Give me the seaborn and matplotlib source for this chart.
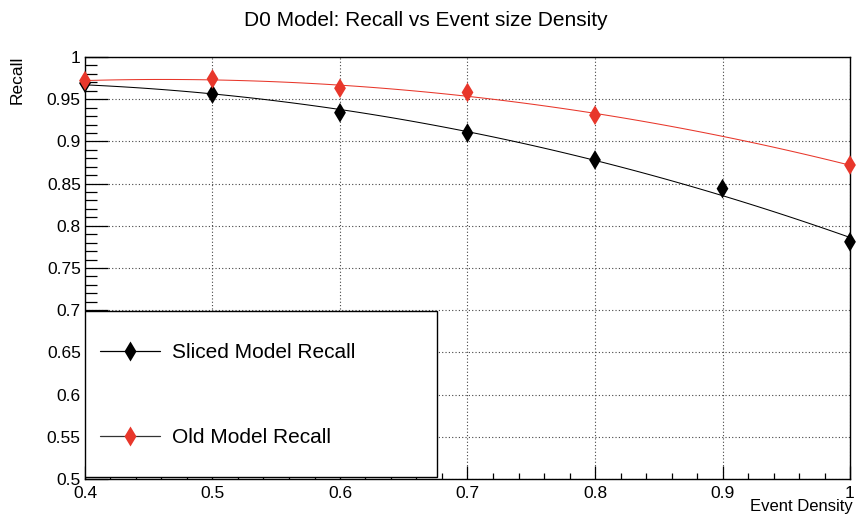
import numpy as np
import pandas as pd
import matplotlib
matplotlib.use("Agg")
import matplotlib.pyplot as plt
from matplotlib.lines import Line2D
from matplotlib.patches import Rectangle
from matplotlib.ticker import MultipleLocator, FormatStrFormatter
import seaborn as sns

# Measured recall for each event density
sliced_density = [0.4, 0.5, 0.6, 0.7, 0.8, 0.9, 1.0]
sliced_recall = [0.969, 0.956, 0.934, 0.910, 0.878, 0.844, 0.781]

old_density = [0.4, 0.5, 0.6, 0.7, 0.8, 1.0]
old_recall = [0.972, 0.974, 0.963, 0.958, 0.931, 0.872]

x_ticks = [0.4, 0.5, 0.6, 0.7, 0.8, 0.9, 1.0]
y_ticks = [0.5, 0.55, 0.6, 0.65, 0.7, 0.75, 0.8, 0.85, 0.9, 0.95, 1.0]

title = "D0 Model: Recall vs Event size Density"
labels = ["Sliced Model Recall", "Old Model Recall"]

RED = "#e8372b"
BLACK = "#000000"

sns.set_style("white")
plt.rcParams["font.family"] = ["Liberation Sans", "DejaVu Sans"]
plt.rcParams["text.color"] = BLACK
plt.rcParams["axes.labelcolor"] = BLACK
plt.rcParams["xtick.color"] = BLACK
plt.rcParams["ytick.color"] = BLACK

fig = plt.figure(figsize=(8.65, 5.21), dpi=100)
ax = fig.add_axes([85 / 865, 1 - 479 / 521, 765 / 865, 422 / 521])

sliced = pd.DataFrame({"density": sliced_density, "recall": sliced_recall})
old = pd.DataFrame({"density": old_density, "recall": old_recall})

# Polynomial fits through each series
sns.regplot(data=sliced, x="density", y="recall", order=2, ci=None,
            scatter=False, ax=ax, line_kws=dict(color=BLACK, lw=0.75, zorder=3))
sns.regplot(data=old, x="density", y="recall", order=2, ci=None,
            scatter=False, ax=ax, line_kws=dict(color=RED, lw=0.75, zorder=3))

# Measurement points
sns.scatterplot(data=sliced, x="density", y="recall", marker="d", s=100,
                color=BLACK, edgecolor="none", ax=ax, zorder=4, clip_on=False)
sns.scatterplot(data=old, x="density", y="recall", marker="d", s=100,
                color=RED, edgecolor="none", ax=ax, zorder=4, clip_on=False)

ax.set_xlim(0.4, 1.0)
ax.set_ylim(0.5, 1.0)
ax.set_xticks(x_ticks)
ax.set_yticks(y_ticks)
ax.xaxis.set_minor_locator(MultipleLocator(0.02))
ax.yaxis.set_minor_locator(MultipleLocator(0.01))
ax.xaxis.set_major_formatter(FormatStrFormatter("%g"))
ax.yaxis.set_major_formatter(FormatStrFormatter("%g"))

ax.tick_params(axis="both", which="both", direction="in", top=False, right=False,
               bottom=True, left=True, colors=BLACK, labelsize=12.5, width=0.9)
ax.tick_params(axis="y", which="major", length=16.5, pad=3)
ax.tick_params(axis="y", which="minor", length=8.5)
ax.tick_params(axis="x", which="major", length=9.5, pad=5)
ax.tick_params(axis="x", which="minor", length=4.5)

ax.grid(True, which="major", linestyle=(0, (1, 2)), color="#444444", lw=0.8)
for sp in ax.spines.values():
    sp.set_color(BLACK)
    sp.set_linewidth(1.0)

ax.set_xlabel("Event Density", fontsize=12, loc="right")
ax.xaxis.set_label_coords(1.003, -0.048)
ax.set_ylabel("Recall", fontsize=12.5, loc="top")
ax.yaxis.set_label_coords(-0.079, 1.004)

fig.text(426 / 865, 1 - 21 / 521, title, ha="center", va="center", fontsize=15)

# Legend box in the lower left corner
ax.add_patch(Rectangle((0.0, 0.005), 0.46, 0.393, transform=ax.transAxes,
                       facecolor="white", edgecolor=BLACK, lw=1.0, zorder=6))
handles = [
    Line2D([], [], color=BLACK, lw=0.9, marker="d", markersize=10,
           markerfacecolor=BLACK, markeredgecolor="none"),
    Line2D([], [], color="#333333", lw=0.9, marker="d", markersize=10,
           markerfacecolor=RED, markeredgecolor="none"),
]
leg = ax.legend(handles, labels, loc="center left", bbox_to_anchor=(0.0196, 0.199),
                frameon=False, fontsize=15, borderpad=0, borderaxespad=0,
                labelspacing=3.15, handlelength=2.9, handletextpad=0.55)
leg.set_zorder(7)

fig.savefig("out.png", dpi=100)
